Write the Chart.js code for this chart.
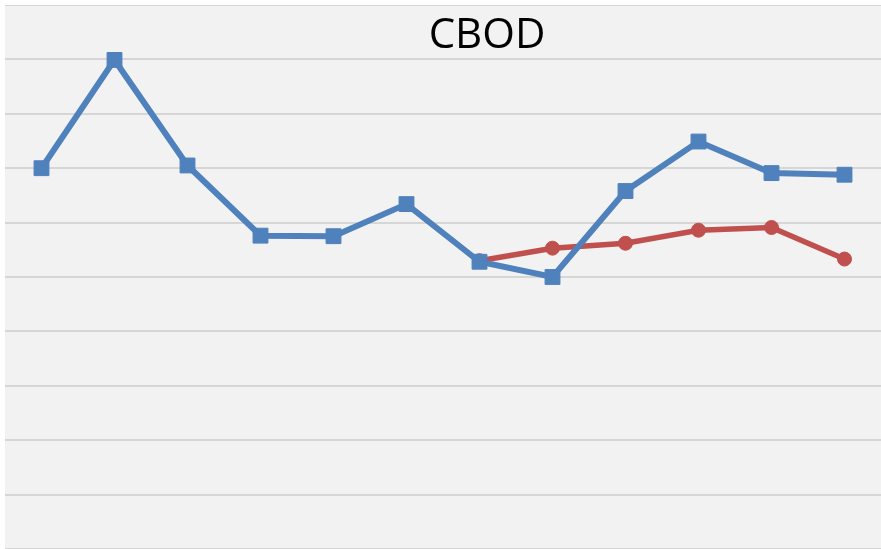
<!DOCTYPE html>
<html>
<head>
<meta charset="utf-8">
<script src="https://cdn.jsdelivr.net/npm/chart.js@4"></script>
<style>
    html, body { margin: 0; padding: 0; background: #ffffff; }
    #wrap {
        position: absolute;
        left: 5px;
        top: 5px;
        width: 876px;
        height: 544px;
        background: #f2f2f2;
    }
</style>
</head>
<body>
<div id="wrap"><canvas id="cbodChart"></canvas></div>
<script>
const categories = ['1', '2', '3', '4', '5', '6', '7', '8', '9', '10', '11', '12'];
const measured = [7.00, 8.99, 7.05, 5.76, 5.75, 6.34, 5.28, 5.00, 6.58, 7.49, 6.91, 6.88];
const modeled = [null, null, null, null, null, null, 5.30, 5.53, 5.62, 5.86, 5.91, 5.33];

// title sits over the plot area, like the original
const overlayTitle = {
    id: 'overlayTitle',
    afterDraw(chart) {
        const ctx = chart.ctx;
        ctx.save();
        ctx.font = '42px "Open Sans", sans-serif';
        ctx.fillStyle = '#000000';
        ctx.textAlign = 'center';
        ctx.textBaseline = 'alphabetic';
        ctx.fillText('CBOD', 482, 43);
        ctx.restore();
    }
};

document.addEventListener('DOMContentLoaded', () => {
    const el = document.getElementById('cbodChart');
    new Chart(el, {
        type: 'line',
        data: {
            labels: categories,
            datasets: [
                {
                    label: 'Measured',
                    data: measured,
                    borderColor: '#4f81bd',
                    backgroundColor: '#4f81bd',
                    borderWidth: 6,
                    pointStyle: 'rect',
                    pointRadius: 10.5,
                    pointBorderWidth: 1,
                    tension: 0
                },
                {
                    label: 'Modeled',
                    data: modeled,
                    borderColor: '#c0504d',
                    backgroundColor: '#c0504d',
                    borderWidth: 5.5,
                    pointStyle: 'circle',
                    pointRadius: 7,
                    pointBorderWidth: 1,
                    tension: 0
                }
            ]
        },
        options: {
            responsive: true,
            maintainAspectRatio: false,
            animation: false,
            layout: { padding: 0, autoPadding: false },
            scales: {
                x: {
                    display: false,
                    offset: true
                },
                y: {
                    min: 0,
                    max: 10,
                    ticks: { display: false, stepSize: 1 },
                    border: { display: false },
                    grid: { color: '#d6d6d6', lineWidth: 2, drawTicks: false }
                }
            },
            plugins: {
                legend: { display: false },
                tooltip: { enabled: false }
            }
        },
        plugins: [overlayTitle]
    });
});
</script>
</body>
</html>
